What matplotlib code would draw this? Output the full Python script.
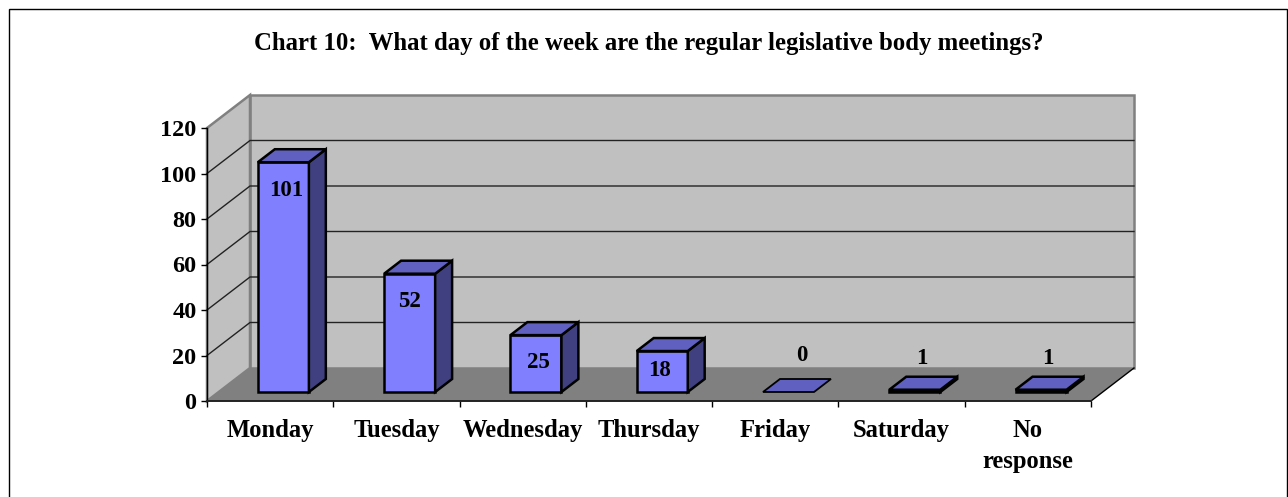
import matplotlib
matplotlib.use("Agg")
import matplotlib.pyplot as plt
from matplotlib.patches import Polygon, Rectangle

categories = ["Monday", "Tuesday", "Wednesday", "Thursday", "Friday", "Saturday", "No\nresponse"]
values = [101, 52, 25, 18, 0, 1, 1]
yticks = [0, 20, 40, 60, 80, 100, 120]
title = "Chart 10:  What day of the week are the regular legislative body meetings?"

W, H = 1288, 497
plt.rcParams["font.family"] = ["Liberation Serif", "DejaVu Serif"]
plt.rcParams["font.weight"] = "bold"

fig = plt.figure(figsize=(W / 100, H / 100), dpi=100, facecolor="white")
# outer frame: runs off the bottom of the picture
fig.add_artist(Rectangle((8.5 / W, 1 - 520 / H), 1278.5 / W, 511 / H, transform=fig.transFigure,
                         fill=False, ec="black", lw=1.0))
L, R, T, B = 207, 1091, 128, 401
ax = fig.add_axes([L / W, 1 - B / H, (R - L) / W, (B - T) / H])
ax.set_xlim(0, len(categories))
ax.set_ylim(0, 120)
ax.patch.set_visible(False)

# depth projection: data units per full depth of the plot box
PXX = (R - L) / len(categories)
PXY = (B - T) / 120
DX = 43 / PXX
DY = 33 / PXY
def P(x, y, d):
    return (x + d * DX, y + d * DY)
def poly(pts, **kw):
    ax.add_patch(Polygon(pts, closed=True, clip_on=False, **kw))

n = len(categories)
top = yticks[-1]
wall = "#c0c0c0"
edge = "#808080"
poly([P(0, 0, 1), P(n, 0, 1), P(n, top, 1), P(0, top, 1)], fc=wall, ec=edge, lw=1.8, zorder=1, joinstyle="miter")
poly([P(0, 0, 0), P(0, 0, 1), P(0, top, 1), P(0, top, 0)], fc=wall, ec=edge, lw=1.8, zorder=1, joinstyle="miter")
poly([P(0, 0, 0), P(n, 0, 0), P(n, 0, 1), P(0, 0, 1)], fc="#808080", ec="none", zorder=1.5)
ax.plot(*zip(P(n, 0, 0), P(n, 0, 1)), color="black", lw=1, clip_on=False, zorder=1.6)

for t in yticks[1:-1]:
    ax.plot(*zip(P(0, t, 0), P(0, t, 1), P(n, t, 1)), color="#222222", lw=1, clip_on=False, zorder=2,
            solid_joinstyle="miter")

# bars
BW = 0.404
SHIFT = 1.5 / PXX
D0, D1 = 9 / 33, 22 / 33
front, side, lid = "#8080ff", "#404080", "#6060c0"
# pixel nudges of the value labels, in bar order
nudge_x = [2.5, -0.5, 2, -3, 4, -3, -3]
float_dy = {0: 29, 1: 24}
for i, v in enumerate(values):
    c = i + 0.5 + SHIFT
    x0, x1 = c - BW / 2, c + BW / 2
    kw = dict(ec="black", lw=1.8, joinstyle="miter", zorder=3 + i * 0.01)
    if v > 0:
        poly([P(x0, 0, D0), P(x1, 0, D0), P(x1, v, D0), P(x0, v, D0)], fc=front, **kw)
        poly([P(x1, 0, D0), P(x1, 0, D1), P(x1, v, D1), P(x1, v, D0)], fc=side, **kw)
    lw = 1.8 if v > 0 else 1.3
    poly([P(x0, v, D0), P(x1, v, D0), P(x1, v, D1), P(x0, v, D1)], fc=lid,
         ec="black", lw=lw, joinstyle="miter", zorder=3 + i * 0.01)
    if v >= 10:
        cx, cy = P(c, v, D0)
        h = v * PXY
        ax.annotate(str(v), (cx, cy), xytext=(nudge_x[i], -min(28, h / 2 - 1.5)), textcoords="offset pixels",
                    ha="center", va="center", fontsize=16.5, zorder=5, annotation_clip=False)
    else:
        cx, cy = P(c, v, 0.5)
        ax.annotate(str(v), (cx, cy), xytext=(nudge_x[i], float_dy[v]), textcoords="offset pixels", ha="center",
                    va="center", fontsize=16.5, zorder=5, annotation_clip=False)

for s in ("top", "right"):
    ax.spines[s].set_visible(False)
ax.spines["left"].set_linewidth(1.0)
ax.spines["bottom"].set_linewidth(1.4)
ax.spines["bottom"].set_color("#222222")
ax.spines["left"].set_zorder(2.5)
ax.spines["bottom"].set_zorder(2.5)
ax.set_yticks(yticks)
ax.set_xticks(range(n + 1))
ax.set_xticklabels([""] * (n + 1))
ax.set_xticks([i + 0.5 for i in range(n)], categories, minor=True)
ax.tick_params(axis="x", which="minor", length=0, pad=13, labelsize=17.7)
ax.tick_params(axis="x", which="major", length=4, width=1)
ax.tick_params(axis="y", length=4, width=1, pad=3.5, labelsize=17.5)
for t in ax.get_xticklabels(minor=True):
    t.set_linespacing(1.45)

fig.text(649 / W, 1 - 43.5 / H, title, ha="center", va="center", fontsize=17.8, fontweight="bold")
fig.savefig("out.png", dpi=100)
